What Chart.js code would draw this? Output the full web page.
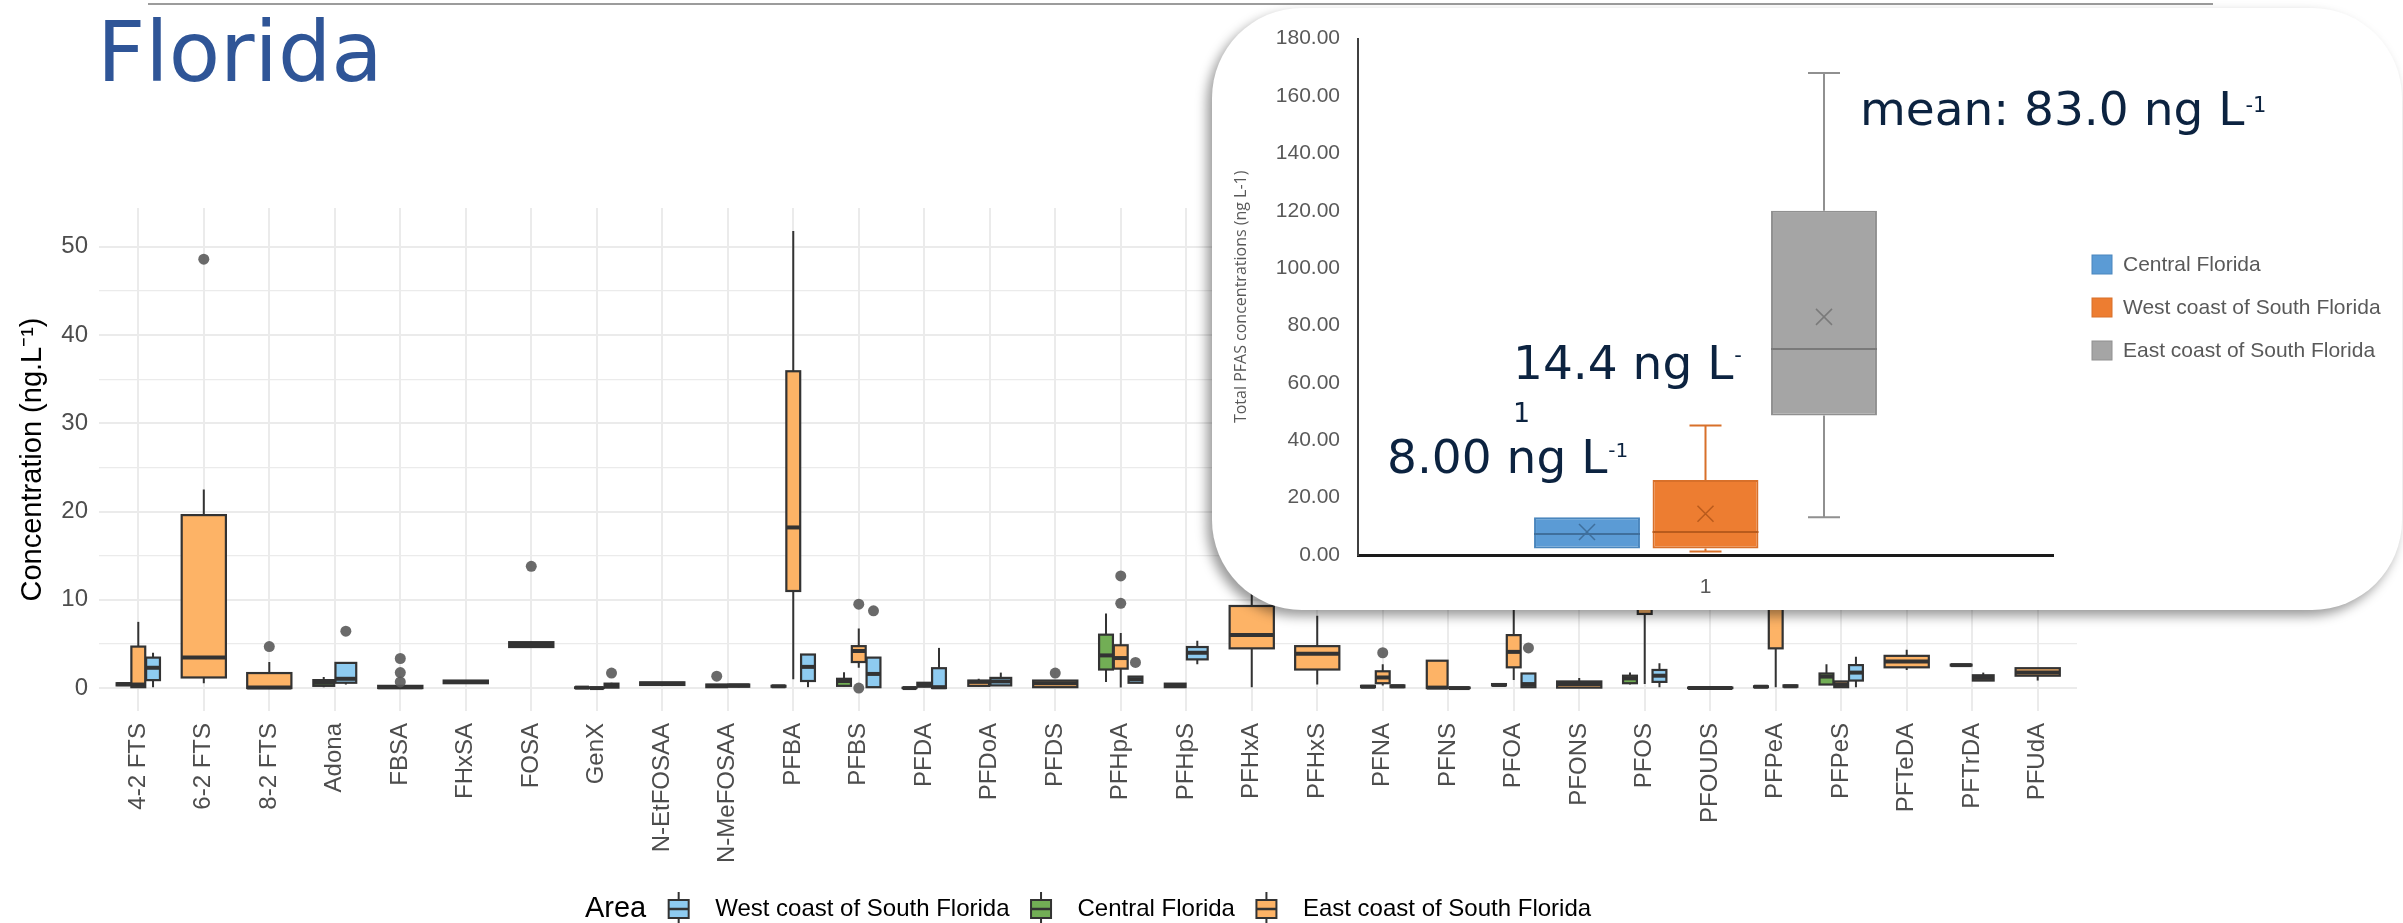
<!DOCTYPE html>
<html>
<head>
<meta charset="utf-8">
<title>Florida</title>
<script src="https://cdn.jsdelivr.net/npm/chart.js@4.4.0/dist/chart.umd.min.js"></script>
<style>
  body { margin: 0; background: #fff; }
  #page { position: relative; width: 2403px; height: 923px; overflow: hidden; background: #fff; }
  #mainChart { position: absolute; left: 0; top: 0; }
  .topline { position: absolute; left: 148px; top: 3px; width: 2065px; height: 2px; background: #9c9c9c; }
  .title { position: absolute; left: 97px; top: 10px; font-family: "DejaVu Sans"; font-size: 84px; line-height: 1; color: #2f5597; }
  .inset { position: absolute; left: 1212px; top: 8px; width: 1190px; height: 602px; background: #fff;
           border-radius: 90px; box-shadow: -5px 6px 12px rgba(0,0,0,0.4); overflow: hidden; }
  #insetChart { position: absolute; left: 0; top: 0; }
</style>
</head>
<body>
<div id="page">
  <canvas id="mainChart" width="2403" height="923"></canvas>
  <div class="topline"></div>
  <div class="title">Florida</div>
  <div class="inset"><canvas id="insetChart" width="1190" height="602"></canvas></div>
</div>
<script>
'use strict'

// ---- main chart data ----
var CATEGORIES = ['4-2 FTS', '6-2 FTS', '8-2 FTS', 'Adona', 'FBSA', 'FHxSA', 'FOSA', 'GenX', 'N-EtFOSAA', 'N-MeFOSAA',
    'PFBA', 'PFBS', 'PFDA', 'PFDoA', 'PFDS', 'PFHpA', 'PFHpS', 'PFHxA', 'PFHxS', 'PFNA',
    'PFNS', 'PFOA', 'PFONS', 'PFOS', 'PFOUDS', 'PFPeA', 'PFPeS', 'PFTeDA', 'PFTrDA', 'PFUdA'];

var Y_TICKS = [0, 5, 10, 15, 20, 25, 30, 35, 40, 45, 50];

var AREAS = ['West coast of South Florida', 'Central Florida', 'East coast of South Florida'];

// [min, q1, median, q3, max] per compound, null = no samples
var CENTRAL = [
    [0.25, 0.3, 0.45, 0.55, 0.6], null, null, [0.1, 0.25, 0.6, 0.9, 1.25], null,
    null, null, [0, 0, 0.05, 0.08, 0.1], null, null,
    [0.15, 0.15, 0.2, 0.25, 0.25], [0.2, 0.25, 0.8, 1.05, 1.8], [0, 0, 0, 0.03, 0.03], null, null,
    [0.7, 2.1, 3.7, 6.05, 8.45], null, null, null, [0.1, 0.1, 0.15, 0.25, 0.25],
    null, [0.3, 0.3, 0.35, 0.45, 0.45], null, [0.4, 0.55, 1.1, 1.4, 1.75], null,
    [0.1, 0.1, 0.15, 0.2, 0.2], [0.35, 0.4, 1.3, 1.65, 2.7], null, [2.5, 2.55, 2.6, 2.65, 2.7], null
];
var EAST = [
    [0.1, 0.1, 0.4, 4.7, 7.5], [0.55, 1.2, 3.45, 19.6, 22.5], [0, 0, 0.05, 1.7, 2.95], null, [0, 0, 0.1, 0.25, 0.3],
    [0.5, 0.55, 0.7, 0.85, 0.9], [4.6, 4.65, 4.9, 5.2, 5.25], [0, 0, 0, 0.03, 0.03], [0.3, 0.35, 0.5, 0.65, 0.7], [0.05, 0.1, 0.25, 0.4, 0.45],
    [1.0, 11.0, 18.2, 35.9, 51.8], [2.3, 2.95, 4.2, 4.75, 6.75], [0.1, 0.15, 0.4, 0.6, 0.65], [0.2, 0.25, 0.7, 0.85, 1.05], [0.1, 0.1, 0.55, 0.85, 0.9],
    [0.05, 2.2, 3.4, 4.85, 6.25], [0.1, 0.1, 0.3, 0.5, 0.5], [0.1, 4.5, 6.0, 9.3, 17.5], [0.4, 2.1, 3.9, 4.75, 8.2], [0.3, 0.55, 1.2, 1.9, 2.7],
    [0, 0, 0.05, 3.1, 3.1], [0.9, 2.35, 4.1, 6.0, 10.5], [0, 0.05, 0.45, 0.75, 1.15], [0.45, 8.4, 16, 26, 45], [0, 0, 0, 0.05, 0.05],
    [0.1, 4.5, 12, 25, 40], [0.1, 0.1, 0.4, 0.75, 0.75], [2.05, 2.35, 3.0, 3.65, 4.35], [0.85, 0.85, 1.15, 1.45, 1.75], [0.85, 1.4, 1.75, 2.25, 2.25]
];
var WEST = [
    [0.1, 0.9, 2.3, 3.45, 4.0], null, null, [0.4, 0.6, 1.05, 2.85, 2.85], null,
    null, null, [0, 0.05, 0.3, 0.5, 0.6], null, [0.1, 0.15, 0.3, 0.4, 0.45],
    [0.1, 0.8, 2.4, 3.8, 3.8], [0.1, 0.1, 1.6, 3.45, 3.45], [0, 0, 0.1, 2.25, 4.55], [0.3, 0.3, 0.75, 1.15, 1.75], null,
    [0.6, 0.6, 1.0, 1.3, 1.3], [2.7, 3.25, 4.0, 4.65, 5.35], null, null, [0.1, 0.1, 0.2, 0.3, 0.3],
    [0, 0, 0, 0.05, 0.05], [0.1, 0.1, 0.45, 1.65, 1.65], null, [0.1, 0.7, 1.4, 2.05, 2.8], null,
    [0.1, 0.15, 0.2, 0.3, 0.3], [0.1, 0.85, 1.75, 2.6, 3.55], null, null, null
];

// outliers: [compound index, value]
var CENTRAL_OUT = [];
var EAST_OUT = [[1, 48.6], [2, 4.7], [4, 3.35], [4, 1.75], [4, 0.7], [6, 13.8], [9, 1.35], [11, 9.5], [11, 0.0],
    [14, 1.7], [15, 12.7], [15, 9.6], [19, 4.0]];
var WEST_OUT = [[3, 6.45], [7, 1.7], [11, 8.75], [15, 2.9], [21, 4.55]];

// ---- inset data ----
var INSET_CATEGORY = ['1'];
var INSET_GROUPS = ['Central Florida', 'West coast of South Florida', 'East coast of South Florida'];
var INSET_MIN = [2.3, 1.2, 13.2];
var INSET_Q1 = [2.3, 2.3, 48.6];
var INSET_MEDIAN = [7.3, 8.0, 71.8];
var INSET_Q3 = [13.2, 26.1, 120.0];
var INSET_MAX = [13.2, 45.1, 168.0];
var INSET_MEAN = [8.0, 14.4, 83.0];

// colours
var FILL = { central: '#72ae55', east: '#fdb366', west: '#8ecbf0' };
var OUTLINE = '#333333';
var INSET_FILL = ['#5b9bd5', '#ed7d31', '#a5a5a5'];
var INSET_EDGE = ['#4a86bd', '#d8702a', '#909090'];
var INSET_DARK = ['#3f6f9c', '#b95b1c', '#7a7a7a'];

Chart.defaults.font.family = '"Liberation Sans", Arial, sans-serif';

// dodge order as in the plot: Central, East, West
var GROUPS = [
    { stats: CENTRAL, out: CENTRAL_OUT, fill: FILL.central },
    { stats: EAST, out: EAST_OUT, fill: FILL.east },
    { stats: WEST, out: WEST_OUT, fill: FILL.west }
];
var FULL_WIDTH = 0.675;

function dodge(catIndex, groupIndex) {
    var present = [];
    for (var g = 0; g < GROUPS.length; g++) {
        if (GROUPS[g].stats[catIndex]) present.push(g);
    }
    var n = present.length;
    var j = present.indexOf(groupIndex);
    var slot = FULL_WIDTH / n;
    return {
        center: (catIndex + 1) - FULL_WIDTH / 2 + slot * (j + 0.5),
        half: slot / 2 * (n > 1 ? 0.94 : 1)
    };
}

function outlierData(group, groupIndex) {
    return group.out.map(function (o) {
        return { x: dodge(o[0], groupIndex).center, y: o[1] };
    });
}

var boxPlugin = {
    id: 'boxes',
    beforeDatasetsDraw: function (chart) {
        var ctx = chart.ctx, xs = chart.scales.x, ys = chart.scales.y;
        ctx.save();
        for (var c = 0; c < CATEGORIES.length; c++) {
            for (var g = 0; g < GROUPS.length; g++) {
                var s = GROUPS[g].stats[c];
                if (!s) continue;
                var d = dodge(c, g);
                var px = xs.getPixelForValue(d.center);
                var left = xs.getPixelForValue(d.center - d.half);
                var right = xs.getPixelForValue(d.center + d.half);
                var yMin = ys.getPixelForValue(s[0]), yQ1 = ys.getPixelForValue(s[1]);
                var yMed = ys.getPixelForValue(s[2]), yQ3 = ys.getPixelForValue(s[3]);
                var yMax = ys.getPixelForValue(s[4]);
                ctx.strokeStyle = OUTLINE;
                ctx.lineWidth = 2;
                ctx.beginPath();
                ctx.moveTo(px, yQ3); ctx.lineTo(px, yMax);
                ctx.moveTo(px, yQ1); ctx.lineTo(px, yMin);
                ctx.stroke();
                ctx.fillStyle = GROUPS[g].fill;
                ctx.fillRect(left, yQ3, right - left, yQ1 - yQ3);
                ctx.lineWidth = 2.2;
                ctx.strokeRect(left, yQ3, right - left, yQ1 - yQ3);
                ctx.lineWidth = 4;
                ctx.beginPath();
                ctx.moveTo(left, yMed); ctx.lineTo(right, yMed);
                ctx.stroke();
            }
        }
        ctx.restore();
    }
};

function drawKey(ctx, x, cy, fill) {
    var cx = x + 13.5;
    ctx.strokeStyle = OUTLINE;
    ctx.lineWidth = 2;
    ctx.beginPath();
    ctx.moveTo(cx, cy - 17); ctx.lineTo(cx, cy - 9);
    ctx.moveTo(cx, cy + 9); ctx.lineTo(cx, cy + 17);
    ctx.stroke();
    ctx.fillStyle = fill;
    ctx.fillRect(cx - 10, cy - 9, 20, 18);
    ctx.strokeRect(cx - 10, cy - 9, 20, 18);
    ctx.lineWidth = 2.5;
    ctx.beginPath();
    ctx.moveTo(cx - 10, cy); ctx.lineTo(cx + 10, cy);
    ctx.stroke();
}

var legendPlugin = {
    id: 'areaLegend',
    afterDraw: function (chart) {
        var ctx = chart.ctx, area = chart.chartArea;
        var keyFills = [FILL.west, FILL.central, FILL.east];
        var cy = 909;
        ctx.save();
        ctx.textBaseline = 'middle';
        ctx.font = '29px "Liberation Sans"';
        var titleW = ctx.measureText('Area').width;
        ctx.font = '24px "Liberation Sans"';
        var widths = AREAS.map(function (a) { return ctx.measureText(a).width; });
        var total = titleW + 19;
        widths.forEach(function (w, i) { total += 27 + 23 + w + (i < widths.length - 1 ? 18 : 0); });
        var x = (area.left + area.right) / 2 - total / 2;
        ctx.fillStyle = '#000';
        ctx.font = '29px "Liberation Sans"';
        ctx.fillText('Area', x, cy);
        x += titleW + 19;
        ctx.font = '24px "Liberation Sans"';
        for (var i = 0; i < AREAS.length; i++) {
            drawKey(ctx, x, cy, keyFills[i]);
            x += 27 + 23;
            ctx.fillStyle = '#000';
            ctx.fillText(AREAS[i], x, cy);
            x += widths[i] + 18;
        }
        ctx.restore();
    }
};

var mainChart = new Chart(document.getElementById('mainChart'), {
    type: 'scatter',
    data: {
        datasets: GROUPS.map(function (g, i) {
            return {
                data: outlierData(g, i),
                pointRadius: 5.5,
                pointBackgroundColor: 'rgba(90,90,90,0.9)',
                pointBorderWidth: 0
            };
        })
    },
    options: {
        responsive: false,
        animation: false,
        devicePixelRatio: 1,
        events: [],
        layout: { padding: { top: 208, right: 326, left: 0, bottom: 0 } },
        plugins: { legend: { display: false }, tooltip: { enabled: false } },
        scales: {
            x: {
                type: 'linear',
                min: 0.4,
                max: 30.6,
                afterBuildTicks: function (scale) {
                    scale.ticks = CATEGORIES.map(function (c, i) { return { value: i + 1 }; });
                },
                afterFit: function (scale) { scale.height = 212; },
                ticks: {
                    callback: function (v) { return CATEGORIES[Math.round(v) - 1]; },
                    autoSkip: false,
                    maxRotation: 90,
                    minRotation: 90,
                    padding: 12,
                    color: '#4d4d4d',
                    font: { size: 24 }
                },
                grid: { color: '#ebebeb', lineWidth: 2, drawTicks: false },
                border: { display: false }
            },
            y: {
                type: 'linear',
                min: -2.6,
                max: 54.4,
                afterBuildTicks: function (scale) {
                    scale.ticks = Y_TICKS.map(function (v) { return { value: v }; });
                },
                afterFit: function (scale) { scale.width = 99; },
                ticks: {
                    callback: function (v) { return v % 10 === 0 ? String(v) : ''; },
                    padding: 11,
                    color: '#4d4d4d',
                    font: { size: 24 }
                },
                grid: {
                    color: '#ebebeb',
                    lineWidth: function (c) { return c.tick && c.tick.value % 10 === 0 ? 2 : 1.2; },
                    drawTicks: false
                },
                border: { display: false },
                title: {
                    display: true,
                    text: 'Concentration (ng.L\u207B\u00B9)',
                    color: '#000',
                    font: { size: 29 },
                    padding: { top: 16, bottom: 0 }
                }
            }
        }
    },
    plugins: [boxPlugin, legendPlugin]
});

// ---- inset (total PFAS) ----
var insetBoxPlugin = {
    id: 'insetBoxes',
    afterDatasetsDraw: function (chart) {
        var ctx = chart.ctx, ys = chart.scales.y;
        ctx.save();
        for (var i = 0; i < INSET_GROUPS.length; i++) {
            var bar = chart.getDatasetMeta(i).data[0];
            var cx = bar.x, hw = bar.width / 2;
            var yMin = ys.getPixelForValue(INSET_MIN[i]), yQ1 = ys.getPixelForValue(INSET_Q1[i]);
            var yQ3 = ys.getPixelForValue(INSET_Q3[i]), yMax = ys.getPixelForValue(INSET_MAX[i]);
            var yMed = ys.getPixelForValue(INSET_MEDIAN[i]), yMean = ys.getPixelForValue(INSET_MEAN[i]);
            ctx.strokeStyle = INSET_EDGE[i];
            ctx.lineWidth = 2;
            ctx.beginPath();
            if (INSET_MAX[i] > INSET_Q3[i]) {
                ctx.moveTo(cx, yQ3); ctx.lineTo(cx, yMax);
                ctx.moveTo(cx - 16, yMax); ctx.lineTo(cx + 16, yMax);
            }
            if (INSET_MIN[i] < INSET_Q1[i]) {
                ctx.moveTo(cx, yQ1); ctx.lineTo(cx, yMin);
                ctx.moveTo(cx - 16, yMin); ctx.lineTo(cx + 16, yMin);
            }
            ctx.stroke();
            ctx.strokeStyle = INSET_DARK[i];
            ctx.lineWidth = 2;
            ctx.beginPath();
            ctx.moveTo(cx - hw, yMed); ctx.lineTo(cx + hw, yMed);
            ctx.stroke();
            ctx.lineWidth = 1.5;
            ctx.beginPath();
            ctx.moveTo(cx - 8, yMean - 8); ctx.lineTo(cx + 8, yMean + 8);
            ctx.moveTo(cx + 8, yMean - 8); ctx.lineTo(cx - 8, yMean + 8);
            ctx.stroke();
        }
        ctx.restore();
    }
};

function supText(ctx, text, sup, x, y, size, supSize, supRise) {
    ctx.font = size + 'px "DejaVu Sans"';
    ctx.fillText(text, x, y);
    var w = ctx.measureText(text).width;
    if (sup) {
        ctx.font = supSize + 'px "DejaVu Sans"';
        ctx.fillText(sup, x + w + 1, y - supRise);
    }
}

var insetTextPlugin = {
    id: 'insetText',
    afterDraw: function (chart) {
        var ctx = chart.ctx;
        ctx.save();
        // legend
        ctx.textBaseline = 'middle';
        ctx.font = '21px "Liberation Sans"';
        var rows = [256, 299, 342];
        for (var i = 0; i < INSET_GROUPS.length; i++) {
            ctx.fillStyle = INSET_FILL[i];
            ctx.fillRect(880, rows[i] - 9, 20, 19);
            ctx.strokeStyle = INSET_EDGE[i];
            ctx.lineWidth = 1;
            ctx.strokeRect(880, rows[i] - 9, 20, 19);
            ctx.fillStyle = '#595959';
            ctx.fillText(INSET_GROUPS[i], 911, rows[i] + 1);
        }
        // annotations
        ctx.textBaseline = 'alphabetic';
        ctx.fillStyle = '#0c2340';
        supText(ctx, 'mean: ' + INSET_MEAN[2].toFixed(1) + ' ng L', '-1', 648, 117, 47, 21, 13);
        supText(ctx, INSET_MEAN[1].toFixed(1) + ' ng L', '-', 301, 371, 47, 21, 17);
        supText(ctx, '1', '', 301, 414, 27, 0, 0);
        supText(ctx, INSET_MEAN[0].toFixed(2) + ' ng L', '-1', 175, 465, 47, 20, 16);
        ctx.restore();
    }
};

var insetChart = new Chart(document.getElementById('insetChart'), {
    type: 'bar',
    data: {
        labels: INSET_CATEGORY,
        datasets: INSET_GROUPS.map(function (g, i) {
            return {
                label: g,
                data: [[INSET_Q1[i], INSET_Q3[i]]],
                backgroundColor: INSET_FILL[i],
                borderColor: INSET_EDGE[i],
                borderWidth: 2,
                borderSkipped: false,
                categoryPercentage: 0.5115,
                barPercentage: 0.894
            };
        })
    },
    options: {
        responsive: false,
        animation: false,
        devicePixelRatio: 1,
        events: [],
        layout: { padding: { top: 23, right: 349, left: 0, bottom: 0 } },
        plugins: { legend: { display: false }, tooltip: { enabled: false } },
        scales: {
            x: {
                grid: { display: false, drawTicks: false },
                border: { display: true, color: '#1a1a1a', width: 3 },
                ticks: { color: '#595959', font: { size: 21 }, padding: 20 },
                afterFit: function (scale) { scale.height = 55; }
            },
            y: {
                min: 0,
                max: 180,
                ticks: {
                    stepSize: 20,
                    callback: function (v) { return v.toFixed(2); },
                    color: '#595959',
                    font: { size: 21 },
                    padding: 18
                },
                grid: { display: false, drawTicks: false },
                border: { display: true, color: '#404040', width: 2 },
                title: {
                    display: true,
                    text: 'Total PFAS concentrations (ng L-1)',
                    color: '#595959',
                    font: { family: '"Open Sans"', size: 16 },
                    padding: { top: 20, bottom: 0 }
                },
                afterFit: function (scale) { scale.width = 146; }
            }
        }
    },
    plugins: [insetBoxPlugin, insetTextPlugin]
});
</script>
</body>
</html>
